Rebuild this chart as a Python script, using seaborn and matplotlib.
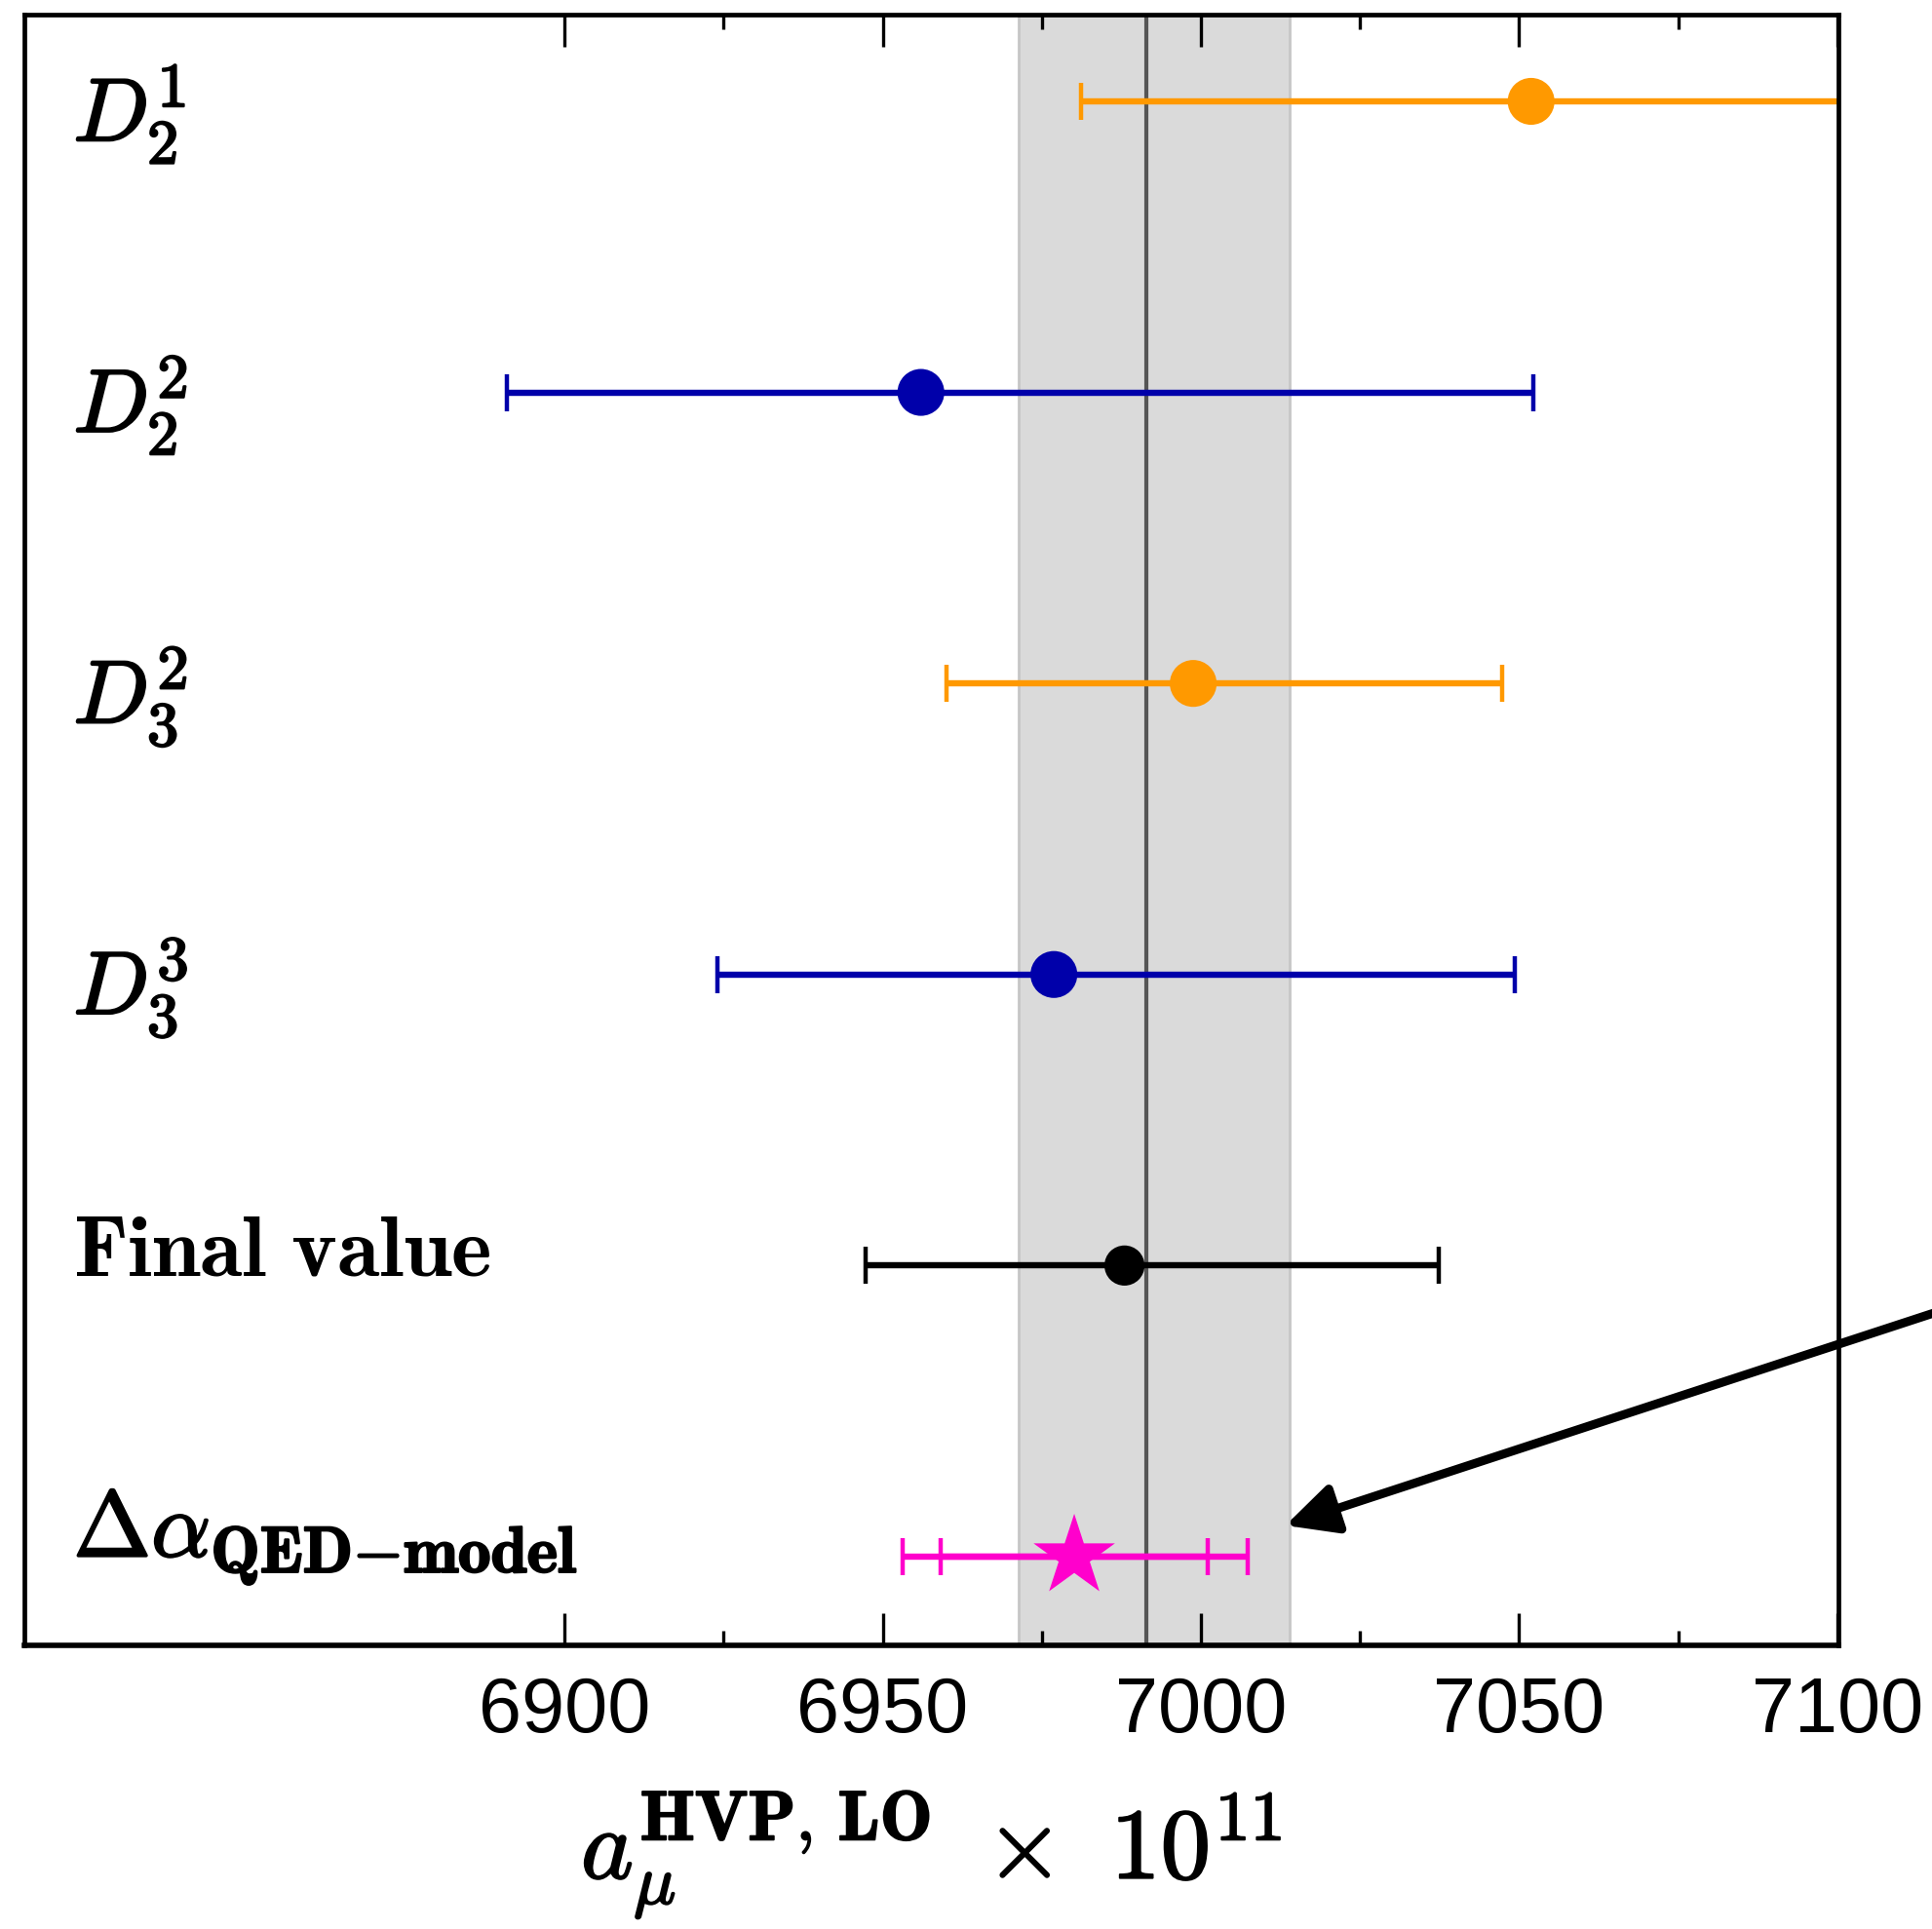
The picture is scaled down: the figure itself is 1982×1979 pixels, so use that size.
import numpy as np
import pandas as pd
import matplotlib
matplotlib.use("Agg")
import matplotlib.pyplot as plt
import matplotlib.patheffects as pe
import seaborn as sns

# ---------------- data ----------------
row_labels = [r"$D_2^1$", r"$D_2^2$", r"$D_3^2$", r"$D_3^3$",
              r"$\mathbf{Final\ value}$",
              r"$\Delta\alpha_{\mathbf{QED{-}model}}$"]
row_kind = ["D", "D", "D", "D", "final", "delta"]
central = [7051.9, 6956.0, 6998.8, 6976.9, 6988.0, 6980.1]
err_low = [6981.1, 6891.0, 6960.1, 6924.0, 6947.3, 6953.1]
err_high = [7123.0, 7052.3, 7047.3, 7049.4, 7037.4, 7007.3]
inner_low = [6959.1]
inner_high = [7001.1]
row_colors = ["#FF9900", "#0000AA", "#FF9900", "#0000AA", "#000000", "#FF00CC"]
band_low, band_high = 6971.4, 7013.9
band_center = 6991.4
major_ticks = [6900, 6950, 7000, 7050, 7100]
minor_ticks = [6925, 6975, 7025, 7075]
arrow_tip = (7013.3, 0.107)

# ---------------- style ----------------
sns.set_theme(style="white")
plt.rcParams["mathtext.fontset"] = "cm"
plt.rcParams["font.family"] = ["DejaVu Sans"]

n = len(central)
ypos = np.arange(n)[::-1].astype(float)
df = pd.DataFrame({"label": row_labels, "value": central, "y": ypos,
                   "lo": err_low, "hi": err_high, "color": row_colors,
                   "kind": row_kind})

fig = plt.figure(figsize=(19.83, 19.79), dpi=100)
ax = fig.add_axes([25 / 1983, 1 - 1688 / 1979, (1886 - 25) / 1983, (1688 - 15) / 1979])

# band + central line
ax.axvspan(band_low, band_high, color="#DADADA", zorder=0, lw=0)
for b in (band_low, band_high):
    ax.axvline(b, color="#C6C6C6", lw=2.0, zorder=0.5)
ax.axvline(band_center, color="#555555", lw=3.0, zorder=1)

# error bars
eb_style = dict(fmt="none", elinewidth=4.6, capsize=13.5, capthick=3.2, zorder=2)
for _, r in df.iterrows():
    ax.errorbar([r["value"]], [r["y"]],
                xerr=[[r["value"] - r["lo"]], [r["hi"] - r["value"]]],
                ecolor=r["color"], **eb_style)
last = df.iloc[-1]
ax.errorbar([last["value"]], [last["y"]],
            xerr=[[last["value"] - inner_low[0]], [inner_high[0] - last["value"]]],
            ecolor=last["color"], **eb_style)

# markers
circ = df[df["kind"] != "delta"]
sizes = {"D": 1200, "final": 880}
for kind, sub in circ.groupby("kind"):
    sns.scatterplot(data=sub, x="value", y="y", hue="label",
                    palette=dict(zip(sub["label"], sub["color"])),
                    s=sizes[kind], marker="o", edgecolor="none",
                    legend=False, ax=ax, zorder=3)
star = df[df["kind"] == "delta"]
sns.scatterplot(data=star, x="value", y="y", hue="label",
                palette=dict(zip(star["label"], star["color"])),
                s=4000, marker="*", edgecolor="none", legend=False,
                ax=ax, zorder=3)

# row labels
offsets = {"D": 0.135, "final": 0.035, "delta": 0.0}
fsizes = {"D": 66, "final": 64, "delta": 69}
strokes = {"D": 1.6, "final": 0.0, "delta": 1.6}
for _, r in df.iterrows():
    t = ax.text(6822.8, r["y"] - offsets[r["kind"]], r["label"],
                fontsize=fsizes[r["kind"]], ha="left", va="baseline",
                color="black", zorder=4)
    if strokes[r["kind"]] > 0:
        t.set_path_effects([pe.withStroke(linewidth=strokes[r["kind"]],
                                          foreground="black")])

# arrow
ax.annotate("", xy=arrow_tip, xycoords="data",
            xytext=(2100, 670), textcoords="figure pixels",
            arrowprops=dict(arrowstyle="-|>,head_length=1.05,head_width=0.52",
                            mutation_scale=30, lw=6.5, color="black",
                            shrinkA=0, shrinkB=0),
            annotation_clip=False)

# axes
ax.set_xlim(6815.1, 7100.2)
ax.set_ylim(-0.305, 5.298)
ax.set_yticks([])
ax.set_xticks(major_ticks)
ax.set_xticks(minor_ticks, minor=True)
ax.set_xticklabels([str(t) for t in major_ticks], fontfamily="Liberation Sans",
                   fontsize=57, color="black")
ax.tick_params(axis="x", which="major", direction="in", length=24, width=2.4,
               top=True, bottom=True, labeltop=False, pad=22, color="black",
               labelcolor="black")
ax.tick_params(axis="x", which="minor", direction="in", length=11, width=2.4,
               top=True, bottom=True, color="black")
for s in ax.spines.values():
    s.set_color("black")
    s.set_linewidth(3.4)
ax.spines["bottom"].set_linewidth(4.0)
xl = ax.set_xlabel(r"$a_{\mu}^{\mathbf{HVP,\,LO}}\ \times\ \mathbf{10}^{\mathbf{11}}$",
                   fontsize=74, labelpad=30, color="black")
xl.set_path_effects([pe.withStroke(linewidth=1.4, foreground="black")])
ax.set_ylabel("")

fig.savefig("out.png", dpi=100)
